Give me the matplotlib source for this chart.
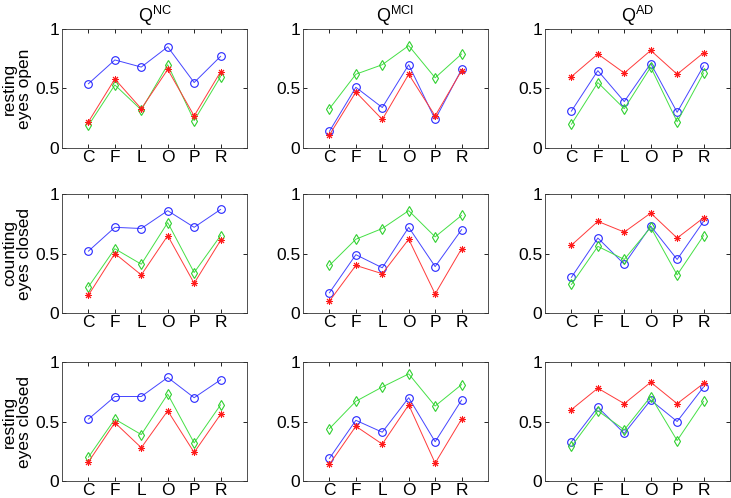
import numpy as np
import matplotlib
matplotlib.use("Agg")
import matplotlib.pyplot as plt

plt.rcParams['font.family'] = ['Liberation Sans', 'DejaVu Sans']
plt.rcParams['mathtext.fontset'] = 'custom'
plt.rcParams['mathtext.rm'] = 'Liberation Sans'

# channels on x axis
regions = ['C', 'F', 'L', 'O', 'P', 'R']
groups = ['NC', 'MCI', 'AD']
conditions = ['resting\neyes open', 'counting\neyes closed', 'resting\neyes closed']

# values, [row][col]
blue = [
    [[0.54, 0.74, 0.68, 0.85, 0.55, 0.77],
     [0.14, 0.51, 0.34, 0.70, 0.24, 0.66],
     [0.31, 0.65, 0.39, 0.71, 0.30, 0.69]],
    [[0.52, 0.72, 0.71, 0.86, 0.72, 0.87],
     [0.17, 0.49, 0.38, 0.72, 0.39, 0.70],
     [0.30, 0.63, 0.41, 0.73, 0.45, 0.77]],
    [[0.52, 0.71, 0.71, 0.87, 0.70, 0.85],
     [0.19, 0.51, 0.41, 0.70, 0.33, 0.68],
     [0.33, 0.62, 0.40, 0.68, 0.50, 0.79]],
]
red = [
    [[0.22, 0.58, 0.33, 0.66, 0.27, 0.64],
     [0.11, 0.47, 0.24, 0.62, 0.27, 0.65],
     [0.60, 0.79, 0.63, 0.82, 0.62, 0.80]],
    [[0.15, 0.50, 0.32, 0.65, 0.25, 0.61],
     [0.10, 0.40, 0.33, 0.62, 0.16, 0.54],
     [0.57, 0.77, 0.68, 0.84, 0.63, 0.80]],
    [[0.16, 0.49, 0.28, 0.59, 0.24, 0.56],
     [0.14, 0.46, 0.31, 0.64, 0.15, 0.52],
     [0.60, 0.78, 0.65, 0.83, 0.65, 0.82]],
]
green = [
    [[0.19, 0.53, 0.32, 0.70, 0.23, 0.60],
     [0.33, 0.62, 0.70, 0.86, 0.59, 0.79],
     [0.20, 0.55, 0.33, 0.68, 0.22, 0.63]],
    [[0.22, 0.54, 0.41, 0.76, 0.34, 0.65],
     [0.40, 0.62, 0.71, 0.86, 0.64, 0.82],
     [0.24, 0.56, 0.45, 0.72, 0.32, 0.65]],
    [[0.20, 0.52, 0.39, 0.73, 0.32, 0.64],
     [0.44, 0.67, 0.79, 0.90, 0.63, 0.81],
     [0.29, 0.59, 0.43, 0.71, 0.34, 0.67]],
]

W, H = 731, 498
fig = plt.figure(figsize=(W / 100, H / 100), dpi=100)

lefts = [62, 303, 545]
tops = [29, 194, 362]
aw, ah = 185, 119
x = np.arange(1, len(regions) + 1)

for r in range(3):
    for c in range(3):
        ax = fig.add_axes([lefts[c] / W, 1 - (tops[r] + ah) / H, aw / W, ah / H])
        ax.plot(x, blue[r][c], '-', marker='o', color='#4545ff', lw=0.7, ms=5.5,
                mfc='none', mec='#2525ff', mew=0.8)
        ax.plot(x, green[r][c], '-', marker='d', color='#45e045', lw=0.7, ms=5,
                mfc='none', mec='#30d030', mew=0.8)
        ax.plot(x, red[r][c], '-', marker=(8, 2, 0), color='#ff3a3a', lw=0.7,
                ms=5, mec='#ff1a1a', mew=0.7)
        ax.set_xlim(0, 7)
        ax.set_ylim(0, 1)
        ax.set_xticks(x)
        ax.set_xticklabels(regions)
        ax.set_yticks([0, 0.5, 1])
        ax.set_yticklabels(['0', '0.5', '1'])
        ax.tick_params(direction='in', top=True, right=True, length=3,
                       width=0.6, labelsize=12.5, pad=2)
        ax.tick_params(axis='x', pad=1.5)
        for s in ax.spines.values():
            s.set_linewidth(0.6)
            s.set_color('#333333')
        if r == 0:
            ax.set_title(r'Q$^{\mathrm{%s}}$' % groups[c], fontsize=13, pad=5)
    fig.text(17 / W, 1 - (tops[r] + ah / 2) / H, conditions[r], rotation=90,
             ha='center', va='center', multialignment='center', fontsize=12.5,
             linespacing=1.0)

fig.savefig('out.png', dpi=100)
